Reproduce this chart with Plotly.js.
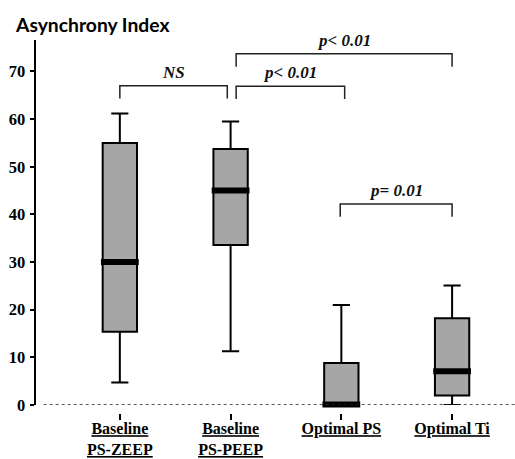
<!DOCTYPE html>
<html>
<head>
<meta charset="utf-8">
<script src="https://cdn.plot.ly/plotly-3.0.1.min.js"></script>
<style>html,body{margin:0;padding:0;background:#fff;}</style>
</head>
<body>
<div id="chart" style="width:515px;height:459px;"></div>
<script>
// ---- data ----
var categories = ['Baseline PS-ZEEP', 'Baseline PS-PEEP', 'Optimal PS', 'Optimal Ti'];
var tickLabels = ['<u>Baseline</u><br><u>PS-ZEEP</u>', '<u>Baseline</u><br><u>PS-PEEP</u>', '<u>Optimal PS</u>', '<u>Optimal Ti</u>'];
var lowerWhisker = [4.7, 11.3, 0, 0];
var q1Values = [15.4, 33.6, 0, 2.0];
var medianValues = [30.0, 45.0, 0.1, 7.1];
var q3Values = [55.0, 53.7, 8.8, 18.2];
var upperWhisker = [61.2, 59.5, 21.0, 25.1];

// significance brackets (category-index positions)
var bracketFrom = [0, 1.05, 1.05, 1.99];
var bracketTo = [0.97, 3.0, 2.03, 3.0];
var bracketTop = [67.0, 73.7, 66.9, 42.2];
var bracketLabels = ['NS', 'p< 0.01', 'p< 0.01', 'p= 0.01'];
var legDrop = 2.7;

var serif = 'Liberation Serif';

var boxTrace = {
  type: 'box',
  x: categories,
  q1: q1Values,
  median: medianValues,
  q3: q3Values,
  lowerfence: lowerWhisker,
  upperfence: upperWhisker,
  boxpoints: false,
  fillcolor: '#a6a6a6',
  line: {color: '#000', width: 2},
  width: 0.31,
  whiskerwidth: 0.5,
  hoverinfo: 'skip'
};

var medianTrace = {
  type: 'scatter',
  mode: 'markers',
  x: categories,
  y: medianValues,
  cliponaxis: false,
  marker: {symbol: 'line-ew', size: 27, color: '#000', line: {color: '#000', width: 6}},
  hoverinfo: 'skip'
};

var shapes = [{
  type: 'line', xref: 'paper', yref: 'y', x0: 0.016, x1: 1, y0: 0, y1: 0,
  line: {color: '#222', width: 1.5, dash: 'dot'}
}];
var annotations = [{
  text: 'Asynchrony Index', xref: 'paper', yref: 'paper', showarrow: false,
  x: -23 / 480, y: 1 + 15 / 373, xanchor: 'left', yanchor: 'middle',
  font: {family: 'Lato', size: 19.3, weight: 'bold', color: '#000'}
}];
for (var i = 0; i < bracketFrom.length; i++) {
  var x0 = bracketFrom[i], x1 = bracketTo[i], y = bracketTop[i];
  shapes.push({
    type: 'path', xref: 'x', yref: 'y',
    path: 'M' + x0 + ',' + (y - legDrop) + ' L' + x0 + ',' + y + ' L' + x1 + ',' + y + ' L' + x1 + ',' + (y - legDrop),
    line: {color: '#222', width: 1.5}
  });
  annotations.push({
    text: bracketLabels[i], xref: 'x', yref: 'y', showarrow: false,
    x: (x0 + x1) / 2, y: y, xanchor: 'center', yanchor: 'bottom', yshift: 2,
    font: {family: serif, size: 17, weight: 'bold', style: 'italic', color: '#111'}
  });
}

var layout = {
  width: 515, height: 459,
  margin: {l: 36, r: 0, t: 40, b: 46},
  paper_bgcolor: '#fff', plot_bgcolor: '#fff',
  showlegend: false,
  xaxis: {
    type: 'category', anchor: 'free', position: 0,
    range: [-0.757, 3.568],
    tickmode: 'array', tickvals: categories, ticktext: tickLabels,
    showline: false, showgrid: false, zeroline: false,
    ticks: 'outside', ticklen: 6, tickwidth: 2, tickcolor: '#000',
    ticklabelstandoff: -5,
    tickfont: {family: serif, size: 16, weight: 'bold', color: '#000'},
    automargin: false
  },
  yaxis: {
    domain: [0.0214, 1],
    range: [0, 76.6],
    dtick: 10, tick0: 0,
    showline: true, linewidth: 2.5, linecolor: '#000',
    showgrid: false, zeroline: false,
    ticks: 'outside', ticklen: 4, tickwidth: 2, tickcolor: '#000',
    ticklabelstandoff: 1,
    tickfont: {family: serif, size: 16.5, weight: 'bold', color: '#000'},
    automargin: false
  },
  shapes: shapes,
  annotations: annotations
};

Plotly.newPlot('chart', [boxTrace, medianTrace], layout, {displayModeBar: false, staticPlot: true});
</script>
</body>
</html>
